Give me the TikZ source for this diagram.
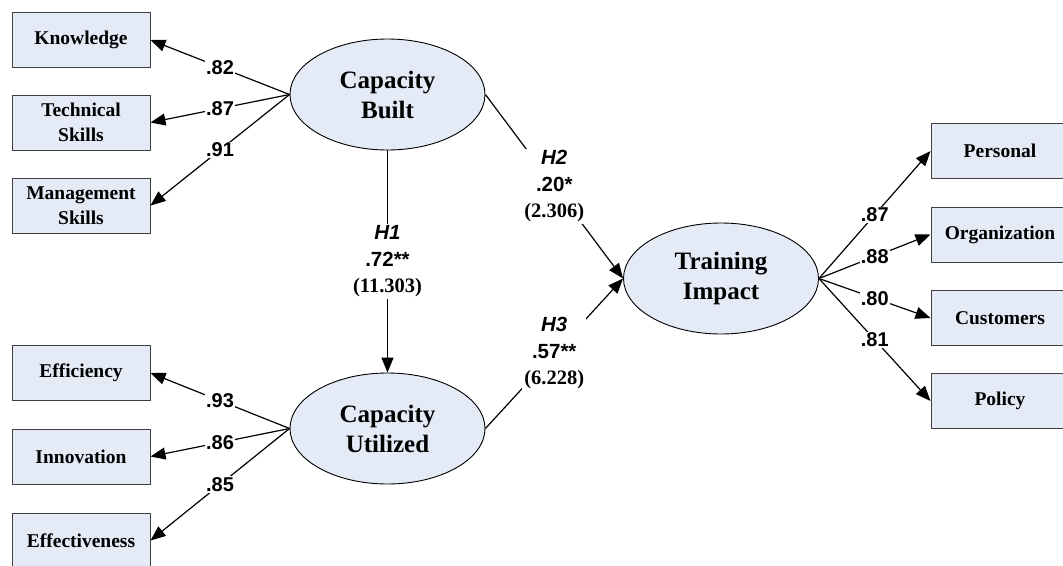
\documentclass[tikz,border=0pt]{standalone}
\usepackage{fontspec}
\setmainfont{Liberation Serif}
\newfontfamily\arialfont{Liberation Sans}
\usetikzlibrary{arrows.meta,shapes.geometric}
\definecolor{boxfill}{RGB}{228,235,247}
\begin{document}
\begin{tikzpicture}[x=1pt,y=-1pt,
  ind/.style={draw=black!75, fill=boxfill, minimum width=138pt, minimum height=55pt, inner sep=0pt, align=center, font=\fontsize{19.5}{25}\selectfont\bfseries, line width=1pt},
  lat/.style={ellipse, draw, fill=boxfill, minimum width=195pt, minimum height=111pt, inner sep=0pt, align=center, font=\fontsize{25}{30}\selectfont\bfseries, line width=0.9pt},
  conn/.style={line width=1.2pt, -{Triangle[length=15pt,width=12pt]}},
  lbl/.style={fill=white, inner sep=1pt, font=\arialfont\fontsize{20}{26}\selectfont\bfseries},
  hyp/.style={fill=white, inner sep=2pt, align=center, font=\fontsize{20.5}{26.5}\selectfont\bfseries}]
\useasboundingbox (0,0) rectangle (1063,565);
% latent variables
\node[lat] (cb) at (387.5,94.5) {Capacity\\Built};
\node[lat] (cu) at (387.5,428.5) {Capacity\\Utilized};
\node[lat] (ti) at (721,278.5) {Training\\Impact};
% indicators left
\node[ind] (kn) at (81,40) {Knowledge};
\node[ind] (ts) at (81,122.5) {Technical\\Skills};
\node[ind] (ms) at (81,205.5) {Management\\Skills};
\node[ind] (ef) at (81,373) {Efficiency};
\node[ind] (in) at (81,456.5) {Innovation};
\node[ind] (ev) at (81,540.5) {Effectiveness};
% indicators right
\node[ind] (pe) at (1000,151) {Personal};
\node[ind] (or) at (1000,234.5) {Organization};
\node[ind] (cs) at (1000,318) {Customers};
\node[ind] (po) at (1000,401) {Policy};
% loadings
\draw[conn] (cb.west) -- node[lbl]{.82} (kn.east);
\draw[conn] (cb.west) -- node[lbl]{.87} (ts.east);
\draw[conn] (cb.west) -- node[lbl]{.91} (ms.east);
\draw[conn] (cu.west) -- node[lbl]{.93} (ef.east);
\draw[conn] (cu.west) -- node[lbl]{.86} (in.east);
\draw[conn] (cu.west) -- node[lbl]{.85} (ev.east);
\draw[conn] (ti.east) -- node[lbl]{.87} (pe.west);
\draw[conn] (ti.east) -- node[lbl]{.88} (or.west);
\draw[conn] (ti.east) -- node[lbl]{.80} (cs.west);
\draw[conn] (ti.east) -- node[lbl]{.81} (po.west);
% structural paths
\draw[conn] (cb.south) -- node[hyp]{{\arialfont\itshape H1}\\{\arialfont .72**}\\(11.303)} (cu.north);
\draw[conn] (cb.east) -- node[hyp]{{\arialfont\itshape H2}\\{\arialfont .20*}\\(2.306)} (ti.west);
\draw[conn] (cu.east) -- node[hyp]{{\arialfont\itshape H3}\\{\arialfont .57**}\\(6.228)} (ti.west);
\end{tikzpicture}
\end{document}
